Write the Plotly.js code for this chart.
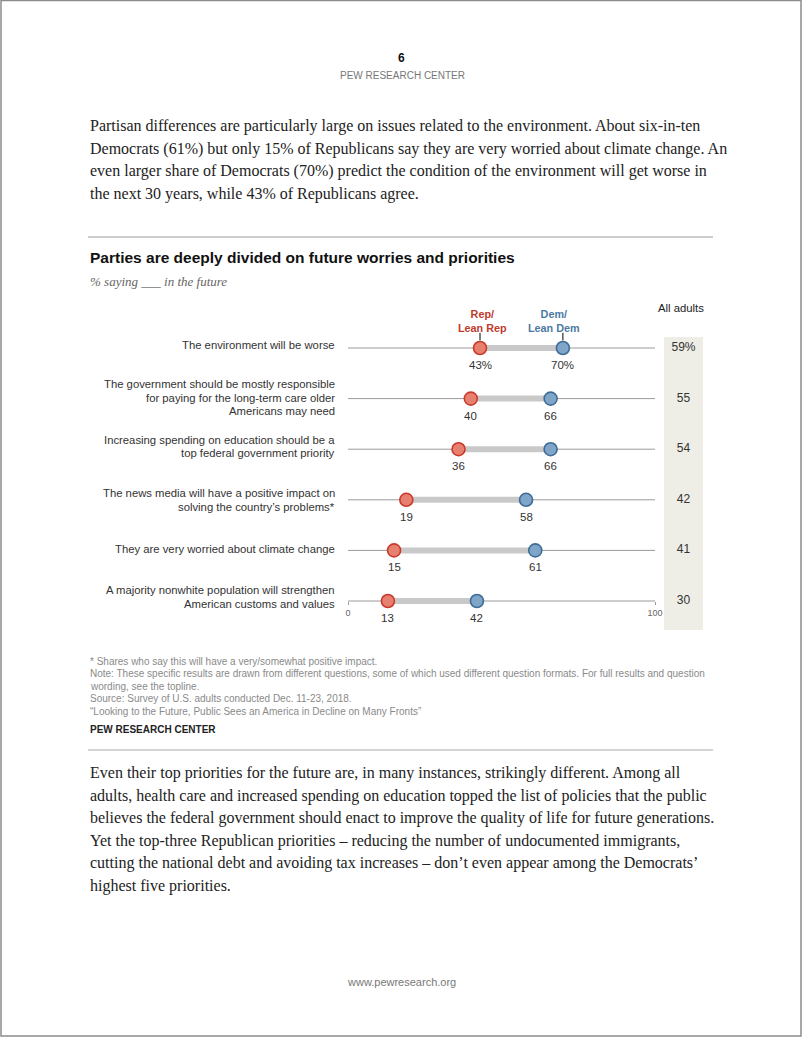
<!DOCTYPE html>
<html>
<head>
<meta charset="utf-8">
<script src="https://cdn.plot.ly/plotly-3.0.1.min.js"></script>
<style>
  html, body { margin: 0; padding: 0; background: #fff; }
  #page { width: 802px; height: 1037px; }
</style>
</head>
<body>
<div id="page"></div>
<script>
// ---------- data ----------
const categories = [
  ["The environment will be worse"],
  ["The government should be mostly responsible", "for paying for the long-term care older", "Americans may need"],
  ["Increasing spending on education should be a", "top federal government priority"],
  ["The news media will have a positive impact on", "solving the country\u2019s problems*"],
  ["They are very worried about climate change"],
  ["A majority nonwhite population will strengthen", "American customs and values"]
];
const repValues = [43, 40, 36, 19, 15, 13];
const demValues = [70, 66, 66, 58, 61, 42];
const allAdults = [59, 55, 54, 42, 41, 30];
const axisTicks = [0, 100];
const axisTickLabels = ["0", "100"];

const para1 = [
  "Partisan differences are particularly large on issues related to the environment. About six-in-ten",
  "Democrats (61%) but only 15% of Republicans say they are very worried about climate change. An",
  "even larger share of Democrats (70%) predict the condition of the environment will get worse in",
  "the next 30 years, while 43% of Republicans agree."
];
const para2 = [
  "Even their top priorities for the future are, in many instances, strikingly different. Among all",
  "adults, health care and increased spending on education topped the list of policies that the public",
  "believes the federal government should enact to improve the quality of life for future generations.",
  "Yet the top-three Republican priorities \u2013 reducing the number of undocumented immigrants,",
  "cutting the national debt and avoiding tax increases \u2013 don\u2019t even appear among the Democrats\u2019",
  "highest five priorities."
];
const notes = [
  "* Shares who say this will have a very/somewhat positive impact.",
  "Note: These specific results are drawn from different questions, some of which used different question formats. For full results and question",
  "wording, see the topline.",
  "Source: Survey of U.S. adults conducted Dec. 11-23, 2018.",
  "\u201cLooking to the Future, Public Sees an America in Decline on Many Fronts\u201d"
];

// ---------- helpers ----------
const W = 802, H = 1037;
const px = x => x / W;
const py = y => 1 - y / H;
const SANS = '"Liberation Sans", Arial, sans-serif';
const SERIF = '"Liberation Serif", "DejaVu Serif", serif';
const rows = categories.map((c, i) => i);
const REP_FILL = '#e8806f', REP_LINE = '#c9392c';
const DEM_FILL = '#7fa6c8', DEM_LINE = '#3e6c96';

const traces = [];
// base gray lines per row (0 to 100)
rows.forEach(i => {
  traces.push({
    x: [axisTicks[0], axisTicks[1]], y: [i, i], mode: 'lines', xaxis: 'x', yaxis: 'y',
    line: {color: '#9a9a9a', width: 1}, hoverinfo: 'skip', showlegend: false
  });
});
// gap band between rep and dem
rows.forEach(i => {
  traces.push({
    x: [repValues[i], demValues[i]], y: [i, i], mode: 'lines', xaxis: 'x', yaxis: 'y',
    line: {color: '#c9c9c9', width: 6}, hoverinfo: 'skip', showlegend: false
  });
});
// legend connectors (first row)
[repValues[0], demValues[0]].forEach(v => {
  traces.push({
    x: [v, v], y: [-0.3, -0.1], mode: 'lines+markers', xaxis: 'x', yaxis: 'y',
    line: {color: '#000', width: 1}, marker: {size: [0, 5], color: '#000'},
    hoverinfo: 'skip', showlegend: false
  });
});
// Rep dots
traces.push({
  x: repValues, y: rows, mode: 'markers', xaxis: 'x', yaxis: 'y',
  marker: {size: 13, color: REP_FILL, line: {color: REP_LINE, width: 1.6}},
  cliponaxis: false, showlegend: false, name: 'Rep/Lean Rep'
});
// Dem dots
traces.push({
  x: demValues, y: rows, mode: 'markers', xaxis: 'x', yaxis: 'y',
  marker: {size: 13, color: DEM_FILL, line: {color: DEM_LINE, width: 1.6}},
  cliponaxis: false, showlegend: false, name: 'Dem/Lean Dem'
});
// All adults column
traces.push({
  x: allAdults.map(() => 0.5), y: rows, mode: 'text', xaxis: 'x2', yaxis: 'y',
  text: allAdults.map((v, i) => i === 0 ? v + '%' : String(v)),
  textposition: 'middle center',
  textfont: {family: SANS, size: 12, color: '#333'},
  cliponaxis: false, showlegend: false, hoverinfo: 'skip'
});

const annotations = [];
const ann = (text, x, y, opts) => Object.assign({
  text, x: px(x), y: py(y), xref: 'paper', yref: 'paper', showarrow: false,
  xanchor: 'left', yanchor: 'middle'
}, opts || {});

// value labels under the dots (placed on the data axes)
[repValues, demValues].forEach(vals => {
  vals.forEach((v, i) => annotations.push({
    text: i === 0 ? v + '%' : String(v), x: v, y: i, xref: 'x', yref: 'y',
    showarrow: false, xanchor: 'center', yanchor: 'middle', yshift: -17,
    font: {family: SANS, size: 11.5, color: '#333'}
  }));
});

// header
annotations.push(ann('<b>6</b>', 401, 58, {xanchor: 'center', font: {family: SANS, size: 12, color: '#111'}}));
annotations.push(ann('PEW RESEARCH CENTER', 402, 76, {xanchor: 'center', font: {family: SANS, size: 10, color: '#777'}}));
// paragraph 1
para1.forEach((t, i) => annotations.push(ann(t, 88, 126 + i * 22.7, {font: {family: SERIF, size: 16, color: '#222'}})));
// chart title
annotations.push(ann('<b>Parties are deeply divided on future worries and priorities</b>', 88, 258, {font: {family: SANS, size: 15.5, color: '#111'}}));
annotations.push(ann('<i>% saying ___ in the future</i>', 88, 281, {font: {family: SERIF, size: 13, color: '#666'}}));
// legend labels
annotations.push(ann('<b>Rep/<br>Lean Rep</b>', 482, 321, {xanchor: 'center', align: 'center', font: {family: SANS, size: 10.8, color: '#bf3b2e'}}));
annotations.push(ann('<b>Dem/<br>Lean Dem</b>', 554, 321, {xanchor: 'center', align: 'center', font: {family: SANS, size: 10.8, color: '#4d7aa3'}}));
annotations.push(ann('All adults', 681, 308, {xanchor: 'center', font: {family: SANS, size: 11.3, color: '#222'}}));
// row labels, one annotation per line
const labelCenterShift = [3, 1, 2.5, 0, 1, 4];
const lineGap = 13.5;
categories.forEach((lines, i) => {
  const n = lines.length;
  lines.forEach((t, k) => annotations.push({
    text: t, x: px(337), xref: 'paper', y: i, yref: 'y', showarrow: false,
    xanchor: 'right', yanchor: 'middle', align: 'right',
    yshift: labelCenterShift[i] - (k - (n - 1) / 2) * lineGap,
    font: {family: SANS, size: 11.3, color: '#333'}
  }));
});
// notes
notes.forEach((t, i) => annotations.push(ann(t, 88, 661 + i * 12.5, {font: {family: SANS, size: 10, color: '#8a8a8a'}})));
annotations.push(ann('<b>PEW RESEARCH CENTER</b>', 88, 729, {font: {family: SANS, size: 10, color: '#222'}}));
// paragraph 2
para2.forEach((t, i) => annotations.push(ann(t, 88, 773 + i * 22.6, {font: {family: SERIF, size: 16, color: '#222'}})));
// footer
annotations.push(ann('www.pewresearch.org', 401, 982, {xanchor: 'center', font: {family: SANS, size: 11, color: '#777'}}));

const shapes = [
  // page frame
  {type: 'rect', xref: 'paper', yref: 'paper', x0: px(1), x1: px(801), y0: py(1036), y1: py(0.5), line: {color: '#8c8c8c', width: 1.5}},
  // rules
  {type: 'line', xref: 'paper', yref: 'paper', x0: px(88), x1: px(713), y0: py(237), y1: py(237), line: {color: '#9a9a9a', width: 1}},
  {type: 'line', xref: 'paper', yref: 'paper', x0: px(88), x1: px(713), y0: py(750), y1: py(750), line: {color: '#a8a8a8', width: 1}},
  // all adults band
  {type: 'rect', xref: 'paper', yref: 'paper', x0: px(664), x1: px(703), y0: py(630), y1: py(337), fillcolor: '#eeeee6', line: {width: 0}, layer: 'below'}
];

const rowPitch = 50.6, row0 = 348;
const layout = {
  width: W, height: H,
  margin: {l: 0, r: 0, t: 0, b: 0, pad: 0},
  paper_bgcolor: '#fff', plot_bgcolor: 'rgba(0,0,0,0)',
  showlegend: false,
  xaxis: {
    domain: [px(348), px(655)], range: [0, 100], anchor: 'free', position: py(601),
    showgrid: false, zeroline: false, showline: false,
    ticks: 'outside', ticklen: 3, tickcolor: '#9a9a9a', tickwidth: 1,
    tickvals: axisTicks, ticktext: axisTickLabels,
    tickfont: {family: SANS, size: 9, color: '#666'}, fixedrange: true
  },
  xaxis2: {
    domain: [px(664), px(703)], range: [0, 1], anchor: 'y', visible: false, fixedrange: true
  },
  yaxis: {
    domain: [py(row0 + 5.5 * rowPitch), py(row0 - 0.5 * rowPitch)],
    range: [5.5, -0.5], visible: false, fixedrange: true
  },
  annotations, shapes
};

Plotly.newPlot('page', traces, layout, {displayModeBar: false, staticPlot: true});
</script>
</body>
</html>
